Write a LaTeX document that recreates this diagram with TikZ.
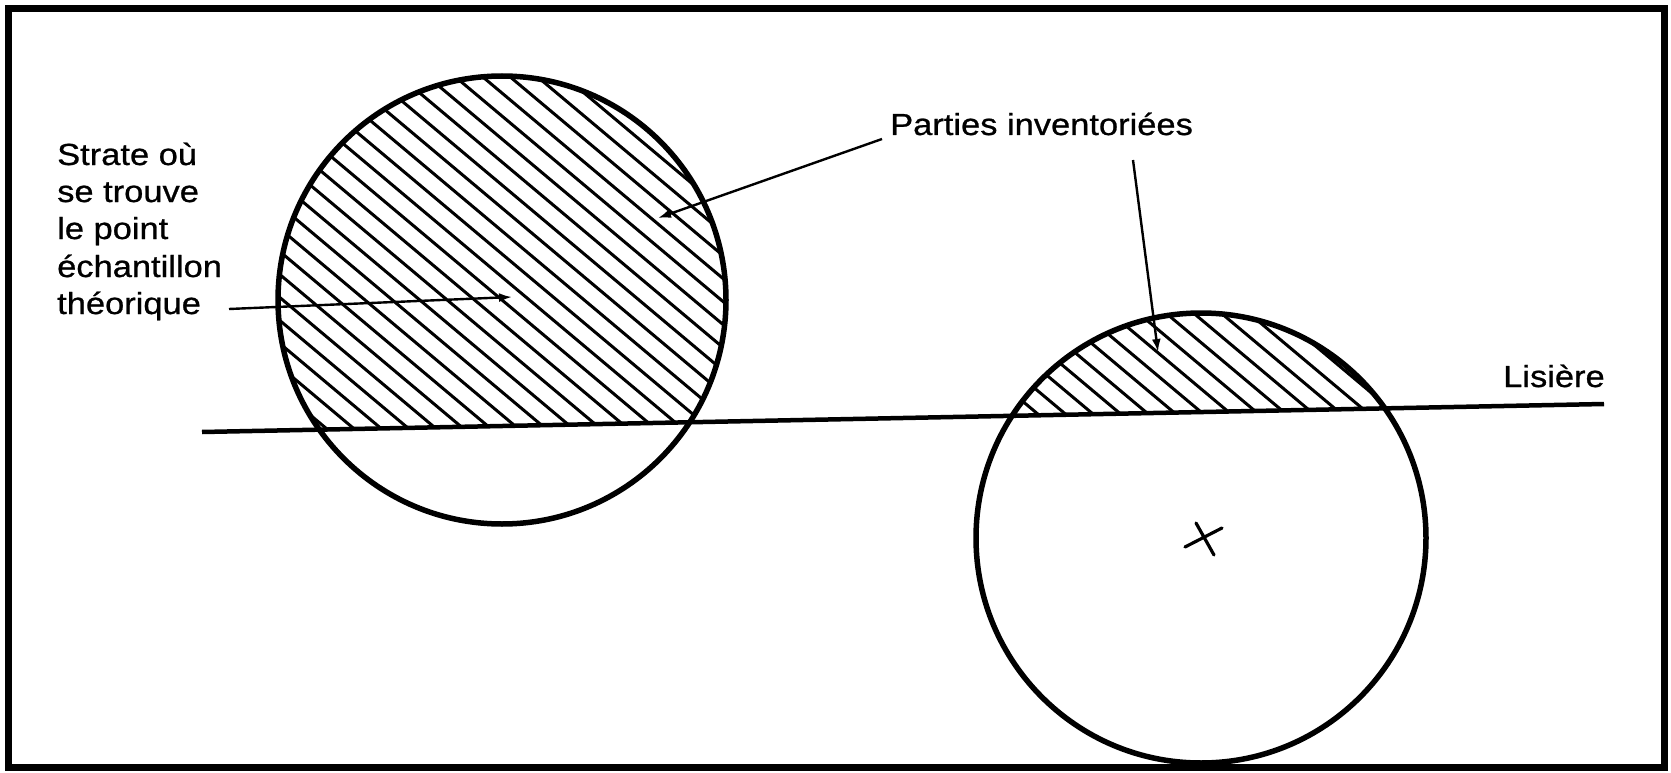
\documentclass[tikz,border=0pt]{standalone}
\usepackage{fontspec}
\setmainfont{Liberation Sans}[FakeStretch=1.13,FakeBold=0.8]
\usetikzlibrary{arrows.meta}
\begin{document}
\begin{tikzpicture}[x=1pt,y=-1pt,
  lbl/.style={inner sep=0pt,anchor=base west,font=\fontsize{30.5}{37}\selectfont},
  ptr/.style={line width=2.4pt,-{Latex[length=13pt,width=9pt]}},
  hatch/.style={line width=3pt},
  rim/.style={line width=5.5pt}]
\useasboundingbox (0,0) rectangle (1671,773);
\fill[white] (0,0) rectangle (1671,773);
% frame
\draw[line width=7pt] (8.5,8.5) rectangle (1664,767);
% geometry
\coordinate (c1) at (502,300);
\coordinate (c2) at (1201,538);
\coordinate (l1) at (202,432);
\coordinate (l2) at (1604,404);
% hatching, left circle
\begin{scope}
  \clip (c1) circle (224);
  \clip (0,436.03) -- (1671,402.63) -- (1671,0) -- (0,0) -- cycle;
  \foreach \k in {-30,...,30}
    \draw[hatch] ({502+\k*27.4},300) ++(-459.6,-385.7) -- ++(919.2,771.4);
\end{scope}
% hatching, right circle
\begin{scope}
  \clip (c2) circle (225);
  \clip (0,436.03) -- (1671,402.63) -- (1671,0) -- (0,0) -- cycle;
  \foreach \k in {-30,...,30}
    \draw[hatch] ({1201+\k*27.6},412) ++(-459.6,-385.7) -- ++(919.2,771.4);
\end{scope}
% circles
\draw[rim] (c1) circle (224);
\draw[rim] (c2) circle (225);
% lisiere
\draw[line width=4.5pt] (l1) -- (l2);
% centre cross
\coordinate (xa) at (1185,547);
\coordinate (xb) at (1222,528);
\coordinate (xc) at (1196,523);
\coordinate (xd) at (1214,555);
\draw[line width=3.2pt,line cap=round] (xa) -- (xb) (xc) -- (xd);
% labels
\node[lbl] (s1) at (57,165) {Strate où};
\node[lbl] (s2) at (57,202) {se trouve};
\node[lbl] (s3) at (57,239) {le point};
\node[lbl] (s4) at (57,277) {échantillon};
\node[lbl] (s5) at (57,314) {théorique};
\node[lbl] (pi) at (890,135) {Parties inventoriées};
\node[lbl] (li) at (1503,387) {Lisière};
% pointers
\coordinate (t0) at (229,309);
\coordinate (t1) at (512,297);
\draw[ptr] (t0) -- (t1);
\coordinate (p0) at (882,139);
\coordinate (p1) at (658,218);
\draw[ptr] (p0) -- (p1);
\coordinate (q0) at (1133,160);
\coordinate (q1) at (1158,352);
\draw[ptr] (q0) -- (q1);
\end{tikzpicture}
\end{document}
